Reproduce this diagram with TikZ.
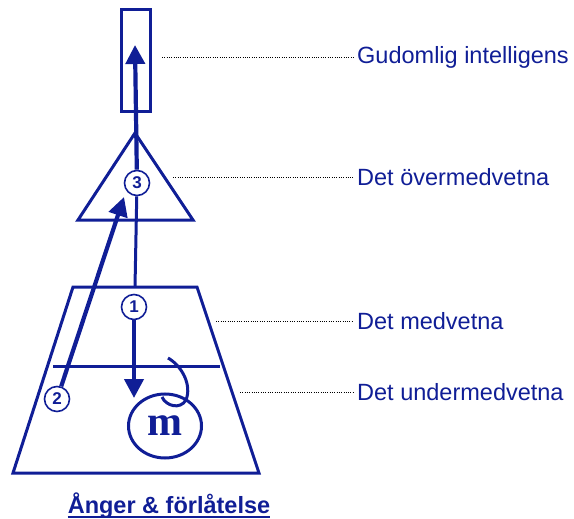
\documentclass[tikz,border=0pt]{standalone}
\usepackage{fontspec}
\setmainfont{Liberation Sans}
\newfontfamily\mfont{Liberation Serif}
\usetikzlibrary{arrows.meta,calc,shapes.geometric}
\definecolor{ink}{RGB}{16,30,150}

\begin{document}
\begin{tikzpicture}
  [x=1pt,y=-1pt,line join=miter,every node/.style={text=ink}]
  \tikzstyle{outline}=[draw=ink,line width=3pt]
  \tikzstyle{num}=[circle,draw=ink,line width=1.6pt,fill=white,inner sep=0pt,
    minimum size=25pt,font=\fontsize{17}{17}\bfseries]
  \tikzstyle{lbl}=[anchor=west,inner sep=0pt,font=\fontsize{23.5}{28}\selectfont]
  \tikzstyle{lead}=[draw=black,line width=0.9pt,dash pattern=on 1pt off 1.3pt]
  \tikzstyle{flow}=[draw=ink,line width=4.2pt,-{Triangle[width=19pt,length=19pt]}]
  \useasboundingbox (0,0) rectangle (574,519);

  % shapes
  \draw[outline] (121,10) rectangle (150,112);
  \draw[outline] (135,133) -- (193,220) -- (78,220) -- cycle;
  \draw[outline] (73,287) -- (197,287) -- (259,473) -- (13,473) -- cycle;
  \draw[outline] (53,366) -- (220,366);

  % circled numbers
  \node[num] (n1) at (134,307) {1};
  \node[num] (n2) at (57,399)  {2};
  \node[num] (n3) at (137,183) {3};
  \coordinate (top) at (135,45);
  \coordinate (base) at (135,287);
  \coordinate (mtop) at (134,398);
  \coordinate (tip3) at (124,197);

  % the m circle
  \node[draw=ink,line width=3pt,ellipse,minimum width=73pt,minimum height=64pt,
    inner sep=0pt,font=\mfont\fontsize{42}{42}\bfseries] (m) at (165,426) {m};
  \draw[draw=ink,line width=3pt] (168,358) .. controls (182,366) and (192,385) .. (186,400)
    .. controls (180,410) and (166,406) .. (162,397);

  \draw[outline] (base) -- (n3);
  \draw[flow] (n3) -- (top);
  \draw[flow] (n1) -- (mtop);
  \draw[flow] (n2) -- (tip3);

  % labels
  \node[lbl] (gud) at (357,57)  {Gudomlig intelligens};
  \node[lbl] (over) at (357,177) {Det övermedvetna};
  \node[lbl] (med) at (357,321) {Det medvetna};
  \node[lbl] (und) at (357,392) {Det undermedvetna};
  \coordinate (g0) at (162,57);
  \coordinate (o0) at (173,177);
  \coordinate (m0) at (216,321);
  \coordinate (u0) at (240,392);
  \draw[lead] (g0) -- ([xshift=-4pt]gud.west);
  \draw[lead] (o0) -- ([xshift=-4pt]over.west);
  \draw[lead] (m0) -- ([xshift=-4pt]med.west);
  \draw[lead] (u0) -- ([xshift=-4pt]und.west);

  \node[font=\fontsize{23.5}{28}\bfseries,inner sep=0pt,anchor=base] (title) at (169,513)
    {Ånger \& förlåtelse};
  \draw[ink,line width=2.2pt] ([yshift=-4pt]title.base west) -- ([yshift=-4pt]title.base east);
\end{tikzpicture}
\end{document}
